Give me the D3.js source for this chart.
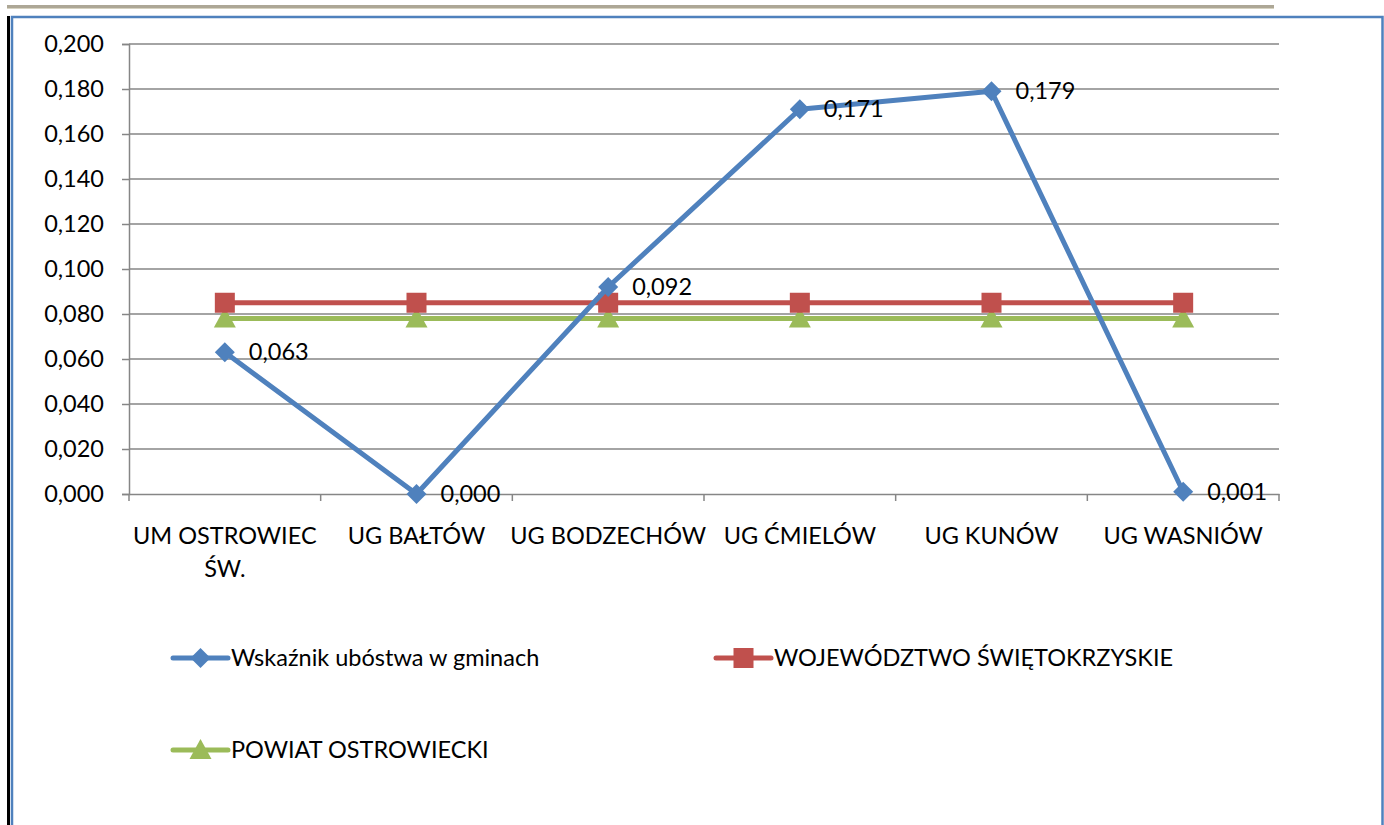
<!DOCTYPE html>
<html>
<head>
<meta charset="utf-8">
<script src="https://cdn.jsdelivr.net/npm/d3@7"></script>
<style>
  body { margin: 0; background: #fff; }
  svg { font-family: Lato, "Open Sans", sans-serif; }
</style>
</head>
<body>
<div id="chart"></div>
<script>
const categories = ["UM OSTROWIEC ŚW.", "UG BAŁTÓW", "UG BODZECHÓW", "UG ĆMIELÓW", "UG KUNÓW", "UG WASNIÓW"];
const gminy = [0.063, 0.000, 0.092, 0.171, 0.179, 0.001];
const wojewodztwo = [0.085, 0.085, 0.085, 0.085, 0.085, 0.085];
const powiat = [0.078, 0.078, 0.078, 0.078, 0.078, 0.078];
const yTicks = [0, 0.02, 0.04, 0.06, 0.08, 0.1, 0.12, 0.14, 0.16, 0.18, 0.2];

const series = [
  { name: "Wskaźnik ubóstwa w gminach", values: gminy, color: "#4F81BD", marker: "diamond", labels: true },
  { name: "WOJEWÓDZTWO ŚWIĘTOKRZYSKIE", values: wojewodztwo, color: "#C0504D", marker: "square" },
  { name: "POWIAT OSTROWIECKI", values: powiat, color: "#9BBB59", marker: "triangle" }
];

const width = 1384, height = 825;
const plot = { left: 129, right: 1279, top: 44, bottom: 494 };
const fs = 23.5;
const fmt = (v) => v.toFixed(3).replace(".", ",");

const svg = d3.select("#chart").append("svg")
  .attr("width", width).attr("height", height);

// page decoration
svg.append("rect").attr("x", 7).attr("y", 5).attr("width", 1267).attr("height", 3).attr("fill", "#ADA796");
svg.append("rect").attr("x", 7).attr("y", 8).attr("width", 1267).attr("height", 1).attr("fill", "#D6D2C0");
svg.append("rect").attr("x", 7).attr("y", 16).attr("width", 3).attr("height", height).attr("fill", "#000");
svg.append("path")
  .attr("d", `M12,${height}V17H1382.5V${height}`)
  .attr("fill", "none").attr("stroke", "#4F81BD").attr("stroke-width", 2.5);

const x = d3.scaleBand().domain(categories).range([plot.left, plot.right]);
const y = d3.scaleLinear().domain([0, 0.2]).range([plot.bottom, plot.top]);

// y axis + gridlines
const yAxis = svg.append("g")
  .attr("transform", `translate(${plot.left},0)`)
  .call(d3.axisLeft(y).tickValues(yTicks).tickFormat(fmt).tickSize(7).tickPadding(18));
yAxis.select(".domain").attr("stroke", "#868686").attr("stroke-width", 1.5);
yAxis.selectAll(".tick line").attr("stroke", "#868686").attr("stroke-width", 1.5);
yAxis.selectAll(".tick text").attr("font-size", fs).attr("fill", "#000")
  .attr("font-family", "Lato, sans-serif");

svg.append("g").selectAll("line")
  .data(yTicks.filter((t) => t > 0))
  .join("line")
  .attr("x1", plot.left).attr("x2", plot.right)
  .attr("y1", (d) => y(d)).attr("y2", (d) => y(d))
  .attr("stroke", "#868686").attr("stroke-width", 1.5);

// x axis
const xAxis = svg.append("g")
  .attr("transform", `translate(0,${plot.bottom})`)
  .call(d3.axisBottom(x).tickSize(0).tickFormat(""));
xAxis.select(".domain").attr("stroke", "#868686").attr("stroke-width", 1.5);
svg.append("g").selectAll("line")
  .data(categories.concat([null]))
  .join("line")
  .attr("x1", (d, i) => plot.left + i * x.bandwidth())
  .attr("x2", (d, i) => plot.left + i * x.bandwidth())
  .attr("y1", plot.bottom).attr("y2", plot.bottom + 7)
  .attr("stroke", "#868686").attr("stroke-width", 1.5);

const catLines = { "UM OSTROWIEC ŚW.": ["UM OSTROWIEC", "ŚW."] };
svg.append("g").selectAll("text")
  .data(categories)
  .join("text")
  .attr("x", (d) => x(d) + x.bandwidth() / 2)
  .attr("y", 544)
  .attr("text-anchor", "middle")
  .attr("font-size", fs)
  .each(function (d) {
    const lines = catLines[d] || [d];
    d3.select(this).selectAll("tspan").data(lines).join("tspan")
      .attr("x", x(d) + x.bandwidth() / 2)
      .attr("dy", (l, i) => (i === 0 ? 0 : 33))
      .text((l) => l);
  });

const cx = (i) => x(categories[i]) + x.bandwidth() / 2;

function drawMarker(g, type, color, px, py) {
  if (type === "diamond") {
    g.append("path").attr("d", `M${px},${py - 10}L${px + 10},${py}L${px},${py + 10}L${px - 10},${py}Z`).attr("fill", color);
  } else if (type === "square") {
    g.append("rect").attr("x", px - 10).attr("y", py - 10).attr("width", 20).attr("height", 20).attr("fill", color);
  } else {
    g.append("path").attr("d", `M${px},${py - 11}L${px + 11},${py + 9}L${px - 11},${py + 9}Z`).attr("fill", color);
  }
}

const line = d3.line().x((d, i) => cx(i)).y((d) => y(d));

// draw so the blue series sits on top of the flat ones
[series[2], series[1], series[0]].forEach((s) => {
  const g = svg.append("g");
  g.append("path").datum(s.values).attr("d", line)
    .attr("fill", "none").attr("stroke", s.color).attr("stroke-width", 5)
    .attr("stroke-linejoin", "round");
  s.values.forEach((v, i) => drawMarker(g, s.marker, s.color, cx(i), y(v)));
  if (s.labels) {
    g.selectAll("text.lbl").data(s.values).join("text")
      .attr("class", "lbl")
      .attr("x", (d, i) => cx(i) + 24)
      .attr("y", (d) => y(d) + 8)
      .attr("font-size", fs).attr("fill", "#000")
      .text(fmt);
  }
});

// legend
const legendPos = [[173, 658], [716, 658], [173, 750]];
series.forEach((s, i) => {
  const [lx, ly] = legendPos[i];
  const g = svg.append("g");
  g.append("line").attr("x1", lx).attr("x2", lx + 55).attr("y1", ly).attr("y2", ly)
    .attr("stroke", s.color).attr("stroke-width", 5).attr("stroke-linecap", "round");
  drawMarker(g, s.marker, s.color, lx + 27.5, ly);
  g.append("text").attr("x", lx + 58).attr("y", ly + 8)
    .attr("font-size", fs).attr("fill", "#000").text(s.name);
});
</script>
</body>
</html>
